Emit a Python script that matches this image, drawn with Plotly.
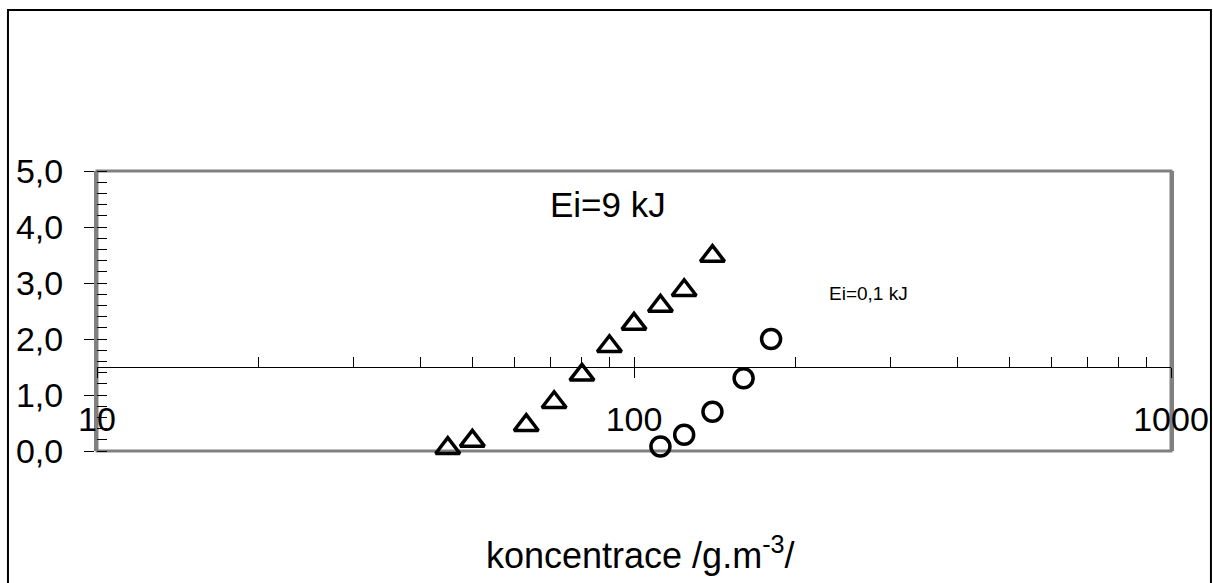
import plotly.graph_objects as go

# Data
tri_x = [45, 50, 63, 71, 80, 90, 100, 112, 124, 140]
tri_y = [0.05, 0.18, 0.46, 0.87, 1.36, 1.87, 2.27, 2.59, 2.87, 3.48]
circ_x = [112, 124, 140, 160, 180]
circ_y = [0.08, 0.29, 0.70, 1.30, 2.00]

x_tickvals = [10, 100, 1000]
x_ticktext = ["10", "100", "1000"]
x_minor = [20, 30, 40, 50, 60, 70, 80, 90, 200, 300, 400, 500, 600, 700, 800, 900]
y_tickvals = [0, 1, 2, 3, 4, 5]

FONT = "Arial, Liberation Sans, sans-serif"

fig = go.Figure()
fig.add_trace(go.Scatter(
    x=tri_x, y=tri_y, mode="markers", name="Ei=9 kJ",
    marker=dict(symbol="triangle-up-open", size=21, color="black",
                line=dict(width=3.5, color="black")),
    cliponaxis=False, showlegend=False))
fig.add_trace(go.Scatter(
    x=circ_x, y=circ_y, mode="markers", name="Ei=0,1 kJ",
    marker=dict(symbol="circle-open", size=19, color="black",
                line=dict(width=3.5, color="black")),
    cliponaxis=False, showlegend=False))
# empty trace to host the overlaying axis
fig.add_trace(go.Scatter(x=[None], y=[None], xaxis="x2", yaxis="y",
                         mode="markers", showlegend=False))

fig.update_layout(
    width=1213, height=583,
    margin=dict(l=97, r=42, t=171, b=132, autoexpand=False),
    paper_bgcolor="white", plot_bgcolor="white",
    separators=", ",
    font=dict(family=FONT, color="black"),
    xaxis=dict(
        type="log", range=[1, 3], anchor="free", position=0.3,
        automargin=False,
        showline=True, linecolor="black", linewidth=1,
        showgrid=False, zeroline=False,
        ticks="outside", ticklen=10, tickcolor="black", tickwidth=1,
        tickvals=x_tickvals, ticktext=x_ticktext,
        tickfont=dict(size=34, family=FONT, color="black"),
        ticklabelstandoff=12,
    ),
    xaxis2=dict(
        type="log", range=[1, 3], anchor="free", position=0.3, overlaying="x",
        automargin=False,
        showline=False, showgrid=False, zeroline=False,
        ticks="inside", ticklen=10, tickcolor="black", tickwidth=1,
        tickvals=x_tickvals, showticklabels=False,
        minor=dict(ticks="inside", ticklen=10, tickcolor="black", tickwidth=1,
                   tickvals=x_minor, showgrid=False),
    ),
    yaxis=dict(
        range=[0, 5], showline=True, linecolor="#808080", linewidth=3, mirror=True,
        automargin=False,
        showgrid=False, zeroline=False,
        ticks="outside", ticklen=10, tickcolor="black", tickwidth=1,
        tickvals=y_tickvals, tickformat=".1f",
        tickfont=dict(size=34, family=FONT, color="black"),
        ticklabelstandoff=14,
        minor=dict(ticks="inside", ticklen=10, tickcolor="black", tickwidth=1,
                   dtick=0.2, showgrid=False),
    ),
    shapes=[
        dict(type="rect", xref="paper", yref="paper", x0=0, x1=1, y0=0, y1=1,
             line=dict(color="#808080", width=3), layer="below"),
        dict(type="rect", xref="paper", yref="paper",
             x0=-0.0829, x1=1.0372, y0=-0.52, y1=1.575,
             line=dict(color="black", width=2), layer="below"),
    ],
    annotations=[
        dict(text="Ei=9 kJ", xref="paper", yref="paper", x=0.4758, y=0.882,
             xanchor="center", yanchor="middle",
             showarrow=False, font=dict(size=35, family=FONT, color="black")),
        dict(text="Ei=0,1 kJ", xref="paper", yref="paper", x=0.7188, y=0.564,
             xanchor="center", yanchor="middle",
             showarrow=False, font=dict(size=19, family=FONT, color="black")),
        dict(text="koncentrace /g.m<sup>-3</sup>/", xref="paper", yref="paper",
             x=0.5056, y=-0.364, xanchor="center", yanchor="middle",
             showarrow=False,
             font=dict(size=36, family=FONT, color="black")),
    ],
)

fig.write_html("out.html")
